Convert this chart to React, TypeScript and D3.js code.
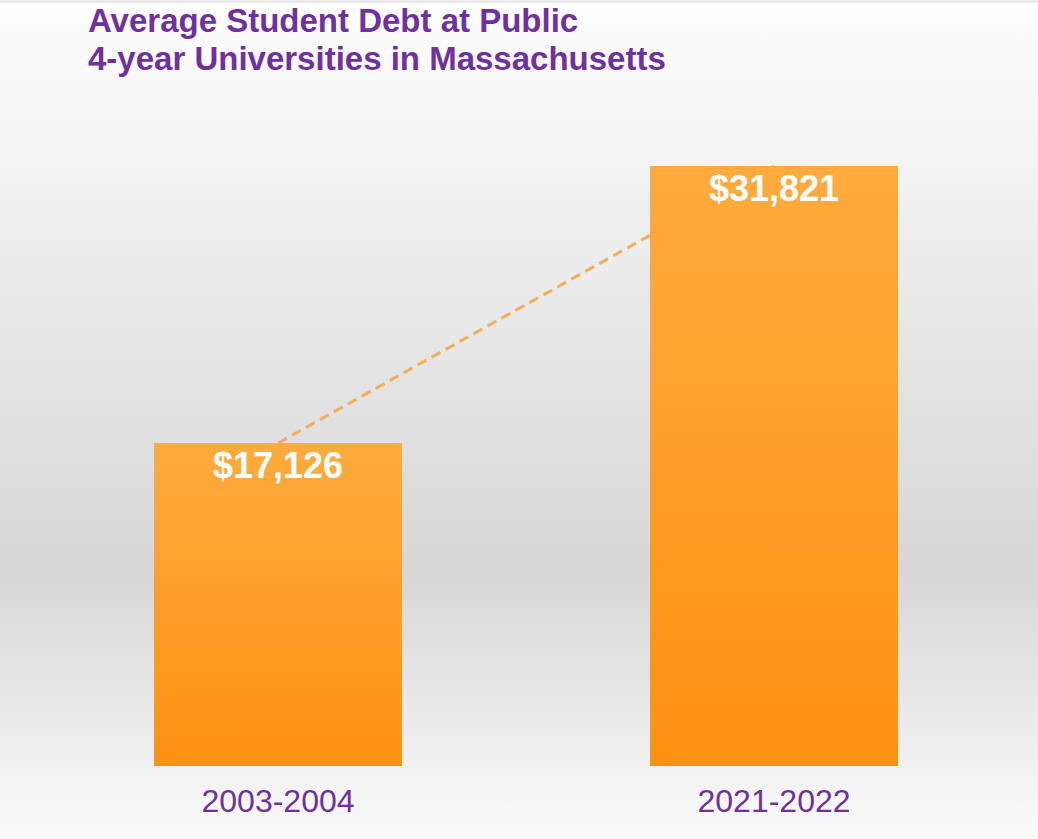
import React from "react";
import * as d3 from "d3";

const categories = ["2003-2004", "2021-2022"];
const values = [17126, 31821];
const valueLabels = ["$17,126", "$31,821"];
const titleLines = ["Average Student Debt at Public", "4-year Universities in Massachusetts"];

const W = 1038;
const H = 839;

export default function App() {
  const x = d3.scaleBand<string>().domain(categories).range([30, 1022]).paddingInner(0.5).paddingOuter(0.25);
  const y = d3.scaleLinear().domain([0, values[1]]).range([766, 166]);
  const bw = x.bandwidth();
  const cx = (c: string) => (x(c) as number) + bw / 2;
  const font = "Arial, 'Liberation Sans', sans-serif";
  const line = d3.line<[number, number]>();
  const pts: [number, number][] = categories.map((c, i) => [cx(c), y(values[i])]);

  return (
    <svg width={W} height={H} style={{ position: "absolute", left: 0, top: 0 }}>
      <defs>
        <linearGradient id="bg" x1="0" y1="0" x2="0" y2="1">
          <stop offset="0" stopColor="#fefefe" />
          <stop offset="0.68" stopColor="#d7d7d7" />
          <stop offset="1" stopColor="#fbfbfb" />
        </linearGradient>
        <linearGradient id="bar" x1="0" y1="0" x2="0" y2="1">
          <stop offset="0" stopColor="#ffab3e" />
          <stop offset="1" stopColor="#ff9112" />
        </linearGradient>
      </defs>
      <rect x={0} y={0} width={W} height={H} fill="url(#bg)" />
      <rect x={0} y={0} width={W} height={3} fill="#ececec" />
      <path d={line(pts) || ""} stroke="#f5ae55" strokeWidth={3} strokeDasharray="10,6" fill="none" />
      {categories.map((c, i) => (
        <rect key={c} x={x(c)} y={y(values[i])} width={bw} height={y(0) - y(values[i])} fill="url(#bar)" />
      ))}
      {categories.map((c, i) => (
        <text key={"v" + c} x={cx(c)} y={y(values[i]) + 35} textAnchor="middle" fill="#ffffff" fontFamily={font} fontWeight="bold" fontSize={36}>
          {valueLabels[i]}
        </text>
      ))}
      {categories.map((c) => (
        <text key={"c" + c} x={cx(c)} y={812} textAnchor="middle" fill="#7030a0" fontFamily={font} fontSize={32}>
          {c}
        </text>
      ))}
      {titleLines.map((t, i) => (
        <text key={t} x={88} y={32 + i * 38} fill="#7030a0" fontFamily={font} fontWeight="bold" fontSize={33}>
          {t}
        </text>
      ))}
    </svg>
  );
}
